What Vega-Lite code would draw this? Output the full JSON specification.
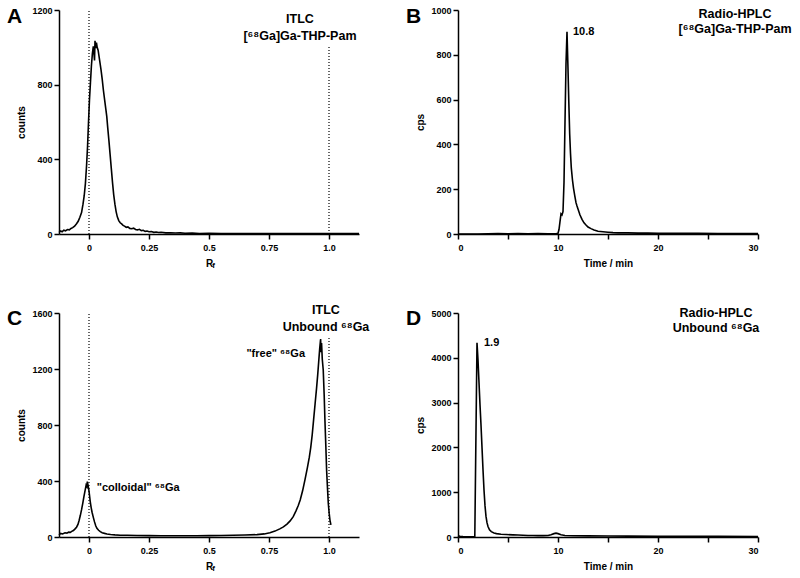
{
  "$schema": "https://vega.github.io/schema/vega-lite/v6.json",
  "background": "white",
  "padding": {"left": 7, "top": 6, "right": 5, "bottom": 5},
  "config": {
    "view": {"stroke": null},
    "axis": {
      "grid": false,
      "domainColor": "black", "domainWidth": 1.5,
      "tickColor": "black", "tickWidth": 1.5, "tickSize": 5,
      "labelFont": "Liberation Sans", "labelFontWeight": "bold", "labelFontSize": 9, "labelColor": "black",
      "titleFont": "Liberation Sans", "titleFontWeight": "bold", "titleFontSize": 10, "titleColor": "black"
    },
    "axisX": {"labelPadding": 4, "titlePadding": 6},
    "axisY": {"labelPadding": 2, "titlePadding": 5},
    "text": {"font": "Liberation Sans", "fontWeight": "bold", "color": "black"},
    "title": {"font": "Liberation Sans", "fontSize": 21, "fontWeight": "bold", "color": "black", "anchor": "start", "frame": "group", "baseline": "top", "offset": 0, "dx": -52}
  },
  "datasets": {
    "A": [
      {"x":-0.125,"y":8},{"x":-0.118,"y":16},{"x":-0.112,"y":12},{"x":-0.105,"y":20},{"x":-0.098,"y":17},{"x":-0.09,"y":24},{"x":-0.082,"y":22},{"x":-0.075,"y":30},{"x":-0.068,"y":34},{"x":-0.06,"y":42},{"x":-0.052,"y":55},{"x":-0.045,"y":68},{"x":-0.038,"y":90},{"x":-0.031,"y":115},{"x":-0.025,"y":160},{"x":-0.02,"y":205},{"x":-0.015,"y":270},{"x":-0.01,"y":370},{"x":-0.006,"y":470},{"x":-0.002,"y":600},{"x":0.002,"y":720},{"x":0.006,"y":810},{"x":0.01,"y":900},{"x":0.014,"y":965},{"x":0.018,"y":1005},{"x":0.021,"y":960},{"x":0.023,"y":930},{"x":0.025,"y":1035},{"x":0.028,"y":995},{"x":0.031,"y":1025},{"x":0.034,"y":1000},{"x":0.038,"y":985},{"x":0.042,"y":950},{"x":0.046,"y":915},{"x":0.05,"y":880},{"x":0.055,"y":830},{"x":0.06,"y":770},{"x":0.065,"y":720},{"x":0.07,"y":670},{"x":0.074,"y":630},{"x":0.078,"y":570},{"x":0.083,"y":500},{"x":0.088,"y":425},{"x":0.093,"y":350},{"x":0.098,"y":275},{"x":0.103,"y":210},{"x":0.108,"y":160},{"x":0.113,"y":120},{"x":0.118,"y":92},{"x":0.124,"y":72},{"x":0.13,"y":60},{"x":0.136,"y":54},{"x":0.142,"y":46},{"x":0.148,"y":42},{"x":0.155,"y":36},{"x":0.162,"y":38},{"x":0.17,"y":30},{"x":0.178,"y":28},{"x":0.186,"y":31},{"x":0.194,"y":24},{"x":0.202,"y":22},{"x":0.21,"y":25},{"x":0.218,"y":18},{"x":0.226,"y":20},{"x":0.234,"y":14},{"x":0.242,"y":16},{"x":0.25,"y":12},{"x":0.26,"y":13},{"x":0.27,"y":9},{"x":0.28,"y":11},{"x":0.29,"y":8},{"x":0.3,"y":9},{"x":0.32,"y":6},{"x":0.34,"y":7},{"x":0.36,"y":5},{"x":0.38,"y":6},{"x":0.4,"y":4},{"x":0.43,"y":5},{"x":0.46,"y":3},{"x":0.5,"y":4},{"x":0.55,"y":3},{"x":0.6,"y":3},{"x":0.65,"y":2},{"x":0.7,"y":3},{"x":0.75,"y":2},{"x":0.8,"y":2},{"x":0.85,"y":3},{"x":0.9,"y":2},{"x":0.95,"y":2},{"x":1.0,"y":2},{"x":1.05,"y":2},{"x":1.1,"y":2},{"x":1.125,"y":2}
    ],
    "B": [
      {"x":0,"y":0},{"x":1,"y":0},{"x":2,"y":0},{"x":3,"y":1},{"x":4,"y":2},{"x":5,"y":1},{"x":6,"y":2},{"x":7,"y":1},{"x":8,"y":2},{"x":9,"y":1},{"x":9.8,"y":1},{"x":10.0,"y":3},{"x":10.1,"y":20},{"x":10.2,"y":55},{"x":10.3,"y":90},{"x":10.4,"y":85},{"x":10.5,"y":100},{"x":10.6,"y":230},{"x":10.7,"y":500},{"x":10.8,"y":760},{"x":10.9,"y":903},{"x":10.95,"y":820},{"x":11.0,"y":737},{"x":11.08,"y":590},{"x":11.17,"y":445},{"x":11.25,"y":360},{"x":11.33,"y":295},{"x":11.45,"y":240},{"x":11.55,"y":205},{"x":11.67,"y":172},{"x":11.8,"y":140},{"x":11.9,"y":125},{"x":12.0,"y":112},{"x":12.2,"y":85},{"x":12.4,"y":65},{"x":12.6,"y":50},{"x":12.8,"y":40},{"x":13.0,"y":31},{"x":13.3,"y":24},{"x":13.6,"y":18},{"x":14.0,"y":12},{"x":14.5,"y":10},{"x":15.0,"y":8},{"x":15.5,"y":6},{"x":16,"y":5},{"x":17,"y":5},{"x":18,"y":4},{"x":19,"y":4},{"x":20,"y":3},{"x":22,"y":3},{"x":24,"y":3},{"x":26,"y":2},{"x":28,"y":2},{"x":30,"y":2}
    ],
    "C": [
      {"x":-0.125,"y":15},{"x":-0.118,"y":26},{"x":-0.11,"y":22},{"x":-0.1,"y":30},{"x":-0.092,"y":28},{"x":-0.085,"y":35},{"x":-0.078,"y":33},{"x":-0.072,"y":40},{"x":-0.065,"y":46},{"x":-0.058,"y":58},{"x":-0.052,"y":70},{"x":-0.046,"y":90},{"x":-0.041,"y":120},{"x":-0.036,"y":155},{"x":-0.031,"y":195},{"x":-0.026,"y":240},{"x":-0.021,"y":290},{"x":-0.016,"y":335},{"x":-0.012,"y":370},{"x":-0.009,"y":360},{"x":-0.007,"y":395},{"x":-0.004,"y":370},{"x":-0.001,"y":340},{"x":0.002,"y":300},{"x":0.005,"y":255},{"x":0.009,"y":210},{"x":0.013,"y":175},{"x":0.018,"y":140},{"x":0.023,"y":108},{"x":0.028,"y":80},{"x":0.033,"y":62},{"x":0.04,"y":48},{"x":0.047,"y":38},{"x":0.055,"y":31},{"x":0.065,"y":26},{"x":0.075,"y":22},{"x":0.09,"y":18},{"x":0.108,"y":15},{"x":0.13,"y":13},{"x":0.16,"y":12},{"x":0.2,"y":11},{"x":0.25,"y":10},{"x":0.3,"y":9},{"x":0.35,"y":9},{"x":0.4,"y":9},{"x":0.45,"y":9},{"x":0.5,"y":10},{"x":0.55,"y":11},{"x":0.6,"y":12},{"x":0.65,"y":14},{"x":0.7,"y":17},{"x":0.73,"y":22},{"x":0.754,"y":30},{"x":0.775,"y":42},{"x":0.795,"y":58},{"x":0.81,"y":72},{"x":0.825,"y":92},{"x":0.838,"y":115},{"x":0.851,"y":145},{"x":0.862,"y":185},{"x":0.872,"y":225},{"x":0.88,"y":265},{"x":0.89,"y":330},{"x":0.9,"y":410},{"x":0.91,"y":495},{"x":0.918,"y":570},{"x":0.924,"y":640},{"x":0.93,"y":730},{"x":0.936,"y":840},{"x":0.942,"y":950},{"x":0.948,"y":1060},{"x":0.953,"y":1160},{"x":0.957,"y":1250},{"x":0.961,"y":1340},{"x":0.965,"y":1414},{"x":0.967,"y":1320},{"x":0.969,"y":1385},{"x":0.972,"y":1270},{"x":0.976,"y":1193},{"x":0.98,"y":1010},{"x":0.983,"y":836},{"x":0.987,"y":640},{"x":0.99,"y":479},{"x":0.994,"y":340},{"x":0.997,"y":241},{"x":1.001,"y":165},{"x":1.004,"y":121},{"x":1.008,"y":86}
    ],
    "D": [
      {"x":0,"y":25},{"x":0.2,"y":15},{"x":0.5,"y":8},{"x":1.0,"y":5},{"x":1.5,"y":5},{"x":1.68,"y":8},{"x":1.9,"y":4337},{"x":2.0,"y":3950},{"x":2.1,"y":3450},{"x":2.2,"y":2950},{"x":2.3,"y":2500},{"x":2.4,"y":2000},{"x":2.5,"y":1500},{"x":2.6,"y":1050},{"x":2.7,"y":700},{"x":2.8,"y":460},{"x":2.9,"y":320},{"x":3.0,"y":235},{"x":3.15,"y":160},{"x":3.33,"y":120},{"x":3.6,"y":90},{"x":3.85,"y":75},{"x":4.3,"y":62},{"x":4.83,"y":55},{"x":5.5,"y":48},{"x":6,"y":45},{"x":6.5,"y":40},{"x":7,"y":35},{"x":7.5,"y":32},{"x":8,"y":30},{"x":8.5,"y":30},{"x":9,"y":35},{"x":9.3,"y":50},{"x":9.6,"y":75},{"x":9.8,"y":85},{"x":10.0,"y":75},{"x":10.3,"y":50},{"x":10.7,"y":35},{"x":11.5,"y":28},{"x":13,"y":25},{"x":15,"y":22},{"x":17,"y":20},{"x":20,"y":18},{"x":23,"y":16},{"x":26,"y":15},{"x":30,"y":12}
    ]
  },
  "columns": 2,
  "spacing": {"row": 34, "column": 36},
  "concat": [
    {
      "width": 300, "height": 224,
      "title": {"text": "A", "dy": 25},
      "layer": [
        {
          "data": {"name": "A"},
          "mark": {"type": "line", "color": "black", "strokeWidth": 1.6},
          "encoding": {
            "x": {"field": "x", "type": "quantitative", "scale": {"domain": [-0.125, 1.125], "nice": false, "zero": false},
                  "axis": {"values": [0, 0.25, 0.5, 0.75, 1], "labelExpr": "datum.value == 1 ? '1.0' : '' + datum.value", "title": "R", "titleDx": -3}},
            "y": {"field": "y", "type": "quantitative", "scale": {"domain": [0, 1200], "nice": false},
                  "axis": {"values": [0, 200, 400, 600, 800, 1000, 1200], "format": "d", "title": "counts"}}
          }
        },
        {
          "data": {"values": [{"x": 0, "y0": 0, "y1": 1200}, {"x": 1, "y0": 0, "y1": 1002}]},
          "mark": {"type": "rule", "color": "black", "strokeWidth": 1.2, "strokeDash": [1, 2]},
          "encoding": {"x": {"field": "x", "type": "quantitative"}, "y": {"field": "y0", "type": "quantitative"}, "y2": {"field": "y1"}}
        },
        {
          "data": {"values": [{"x": 0.879, "y": 1184, "label": "ITLC\n[⁶⁸Ga]Ga-THP-Pam"}]},
          "mark": {"type": "text", "align": "center", "baseline": "top", "fontSize": 12.5, "lineBreak": "\n", "lineHeight": 17},
          "encoding": {"x": {"field": "x", "type": "quantitative"}, "y": {"field": "y", "type": "quantitative"}, "text": {"field": "label"}}
        },
        {
          "data": {"values": [{"x": 0.514, "y": -148, "label": "f"}]},
          "mark": {"type": "text", "align": "left", "baseline": "top", "fontSize": 8},
          "encoding": {"x": {"field": "x", "type": "quantitative"}, "y": {"field": "y", "type": "quantitative"}, "text": {"field": "label"}}
        }
      ]
    },
    {
      "width": 300, "height": 224,
      "title": {"text": "B", "dy": 25},
      "layer": [
        {
          "data": {"name": "B"},
          "mark": {"type": "line", "color": "black", "strokeWidth": 1.6},
          "encoding": {
            "x": {"field": "x", "type": "quantitative", "scale": {"domain": [0, 30], "nice": false},
                  "axis": {"values": [0, 5, 10, 15, 20, 25, 30], "labelExpr": "datum.value % 10 == 0 ? datum.label : ''", "title": "Time / min"}},
            "y": {"field": "y", "type": "quantitative", "scale": {"domain": [0, 1000], "nice": false},
                  "axis": {"values": [0, 200, 400, 600, 800, 1000], "format": "d", "title": "cps"}}
          }
        },
        {
          "data": {"values": [{"x": 27.7, "y": 1011, "label": "Radio-HPLC\n[⁶⁸Ga]Ga-THP-Pam"}]},
          "mark": {"type": "text", "align": "center", "baseline": "top", "fontSize": 12.5, "lineBreak": "\n", "lineHeight": 15},
          "encoding": {"x": {"field": "x", "type": "quantitative"}, "y": {"field": "y", "type": "quantitative"}, "text": {"field": "label"}}
        },
        {
          "data": {"values": [{"x": 11.5, "y": 902, "label": "10.8"}]},
          "mark": {"type": "text", "align": "left", "baseline": "middle", "fontSize": 11},
          "encoding": {"x": {"field": "x", "type": "quantitative"}, "y": {"field": "y", "type": "quantitative"}, "text": {"field": "label"}}
        }
      ]
    },
    {
      "width": 300, "height": 224,
      "title": {"text": "C", "dy": 29},
      "layer": [
        {
          "data": {"name": "C"},
          "mark": {"type": "line", "color": "black", "strokeWidth": 1.6},
          "encoding": {
            "x": {"field": "x", "type": "quantitative", "scale": {"domain": [-0.125, 1.125], "nice": false, "zero": false},
                  "axis": {"values": [0, 0.25, 0.5, 0.75, 1], "labelExpr": "datum.value == 1 ? '1.0' : '' + datum.value", "title": "R", "titleDx": -3}},
            "y": {"field": "y", "type": "quantitative", "scale": {"domain": [0, 1600], "nice": false},
                  "axis": {"values": [0, 400, 800, 1200, 1600], "format": "d", "title": "counts"}}
          }
        },
        {
          "data": {"values": [{"x": 0, "y0": 0, "y1": 1600}, {"x": 1, "y0": 0, "y1": 1421}]},
          "mark": {"type": "rule", "color": "black", "strokeWidth": 1.2, "strokeDash": [1, 2]},
          "encoding": {"x": {"field": "x", "type": "quantitative"}, "y": {"field": "y0", "type": "quantitative"}, "y2": {"field": "y1"}}
        },
        {
          "data": {"values": [{"x": 0.9875, "y": 1664, "label": "ITLC\nUnbound ⁶⁸Ga"}]},
          "mark": {"type": "text", "align": "center", "baseline": "top", "fontSize": 12.5, "lineBreak": "\n", "lineHeight": 17},
          "encoding": {"x": {"field": "x", "type": "quantitative"}, "y": {"field": "y", "type": "quantitative"}, "text": {"field": "label"}}
        },
        {
          "data": {"values": [{"x": 0.032, "y": 350, "label": "\"colloidal\" ⁶⁸Ga"}]},
          "mark": {"type": "text", "align": "left", "baseline": "middle", "fontSize": 11},
          "encoding": {"x": {"field": "x", "type": "quantitative"}, "y": {"field": "y", "type": "quantitative"}, "text": {"field": "label"}}
        },
        {
          "data": {"values": [{"x": 0.9, "y": 1307, "label": "\"free\" ⁶⁸Ga"}]},
          "mark": {"type": "text", "align": "right", "baseline": "middle", "fontSize": 11},
          "encoding": {"x": {"field": "x", "type": "quantitative"}, "y": {"field": "y", "type": "quantitative"}, "text": {"field": "label"}}
        },
        {
          "data": {"values": [{"x": 0.514, "y": -197, "label": "f"}]},
          "mark": {"type": "text", "align": "left", "baseline": "top", "fontSize": 8},
          "encoding": {"x": {"field": "x", "type": "quantitative"}, "y": {"field": "y", "type": "quantitative"}, "text": {"field": "label"}}
        }
      ]
    },
    {
      "width": 300, "height": 224,
      "title": {"text": "D", "dy": 26},
      "layer": [
        {
          "data": {"name": "D"},
          "mark": {"type": "line", "color": "black", "strokeWidth": 1.6},
          "encoding": {
            "x": {"field": "x", "type": "quantitative", "scale": {"domain": [0, 30], "nice": false},
                  "axis": {"values": [0, 5, 10, 15, 20, 25, 30], "labelExpr": "datum.value % 10 == 0 ? datum.label : ''", "title": "Time / min"}},
            "y": {"field": "y", "type": "quantitative", "scale": {"domain": [0, 5000], "nice": false},
                  "axis": {"values": [0, 1000, 2000, 3000, 4000, 5000], "format": "d", "title": "cps"}}
          }
        },
        {
          "data": {"values": [{"x": 25.8, "y": 5134, "label": "Radio-HPLC\nUnbound ⁶⁸Ga"}]},
          "mark": {"type": "text", "align": "center", "baseline": "top", "fontSize": 12.5, "lineBreak": "\n", "lineHeight": 15},
          "encoding": {"x": {"field": "x", "type": "quantitative"}, "y": {"field": "y", "type": "quantitative"}, "text": {"field": "label"}}
        },
        {
          "data": {"values": [{"x": 2.6, "y": 4330, "label": "1.9"}]},
          "mark": {"type": "text", "align": "left", "baseline": "middle", "fontSize": 11},
          "encoding": {"x": {"field": "x", "type": "quantitative"}, "y": {"field": "y", "type": "quantitative"}, "text": {"field": "label"}}
        }
      ]
    }
  ]
}
